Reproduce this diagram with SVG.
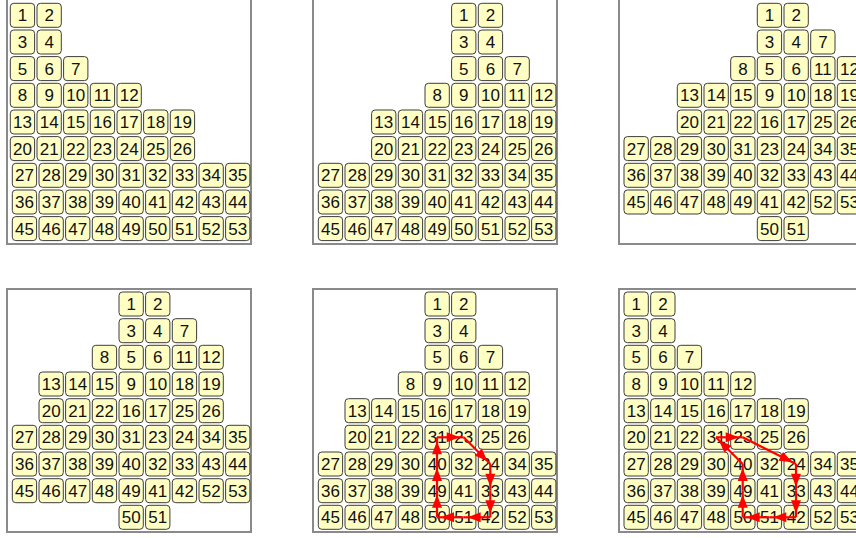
<svg xmlns="http://www.w3.org/2000/svg" xmlns:xlink="http://www.w3.org/1999/xlink" width="856" height="538" viewBox="0 0 856 538">
<style>
.frame{fill:#ffffff;stroke:#8a8a8a;stroke-width:2}
.box{fill:#ffffc4;stroke:#3c3c3c;stroke-width:1}
text{font-family:"Liberation Sans",Arial,sans-serif;font-size:17px;text-anchor:middle;fill:#111}
.arr{stroke:#ff0000;stroke-width:2.2;fill:none;marker-end:url(#ah)}
</style>
<defs>
<rect id="b" class="box" width="24.3" height="24" rx="3.5"/>
<marker id="ah" markerUnits="userSpaceOnUse" viewBox="0 0 14 11" markerWidth="14" markerHeight="11" refX="17" refY="5.5" orient="auto" overflow="visible">
<path d="M0,0.5 L13,5.5 L0,10.5 z" fill="#ff0000"/>
</marker>
</defs>
<rect width="856" height="538" fill="#ffffff"/>
<g id="frames">
<rect class="frame" x="7" y="-1" width="244" height="245"/>
<rect class="frame" x="313" y="-1" width="244" height="245"/>
<rect class="frame" x="619" y="-1" width="244" height="245"/>
<rect class="frame" x="7" y="289" width="244" height="243"/>
<rect class="frame" x="313" y="289" width="244" height="243"/>
<rect class="frame" x="619" y="289" width="244" height="243"/>
</g>
<g id="panel1" transform="translate(12.3,3.3)">
<g transform="translate(-2,0)">
<g id="p1-1" transform="translate(0,0)"><use href="#b"/><text x="12.2" y="18">1</text></g>
<g id="p1-2" transform="translate(26.7,0)"><use href="#b"/><text x="12.2" y="18">2</text></g>
<g id="p1-3" transform="translate(0,26.7)"><use href="#b"/><text x="12.2" y="18">3</text></g>
<g id="p1-4" transform="translate(26.7,26.7)"><use href="#b"/><text x="12.2" y="18">4</text></g>
<g id="p1-5" transform="translate(0,53.3)"><use href="#b"/><text x="12.2" y="18">5</text></g>
<g id="p1-6" transform="translate(26.7,53.3)"><use href="#b"/><text x="12.2" y="18">6</text></g>
<g id="p1-7" transform="translate(53.3,53.3)"><use href="#b"/><text x="12.2" y="18">7</text></g>
<g id="p1-8" transform="translate(0,80)"><use href="#b"/><text x="12.2" y="18">8</text></g>
<g id="p1-9" transform="translate(26.7,80)"><use href="#b"/><text x="12.2" y="18">9</text></g>
<g id="p1-10" transform="translate(53.3,80)"><use href="#b"/><text x="12.2" y="18">10</text></g>
<g id="p1-11" transform="translate(80,80)"><use href="#b"/><text x="12.2" y="18">11</text></g>
<g id="p1-12" transform="translate(106.7,80)"><use href="#b"/><text x="12.2" y="18">12</text></g>
<g id="p1-13" transform="translate(0,106.7)"><use href="#b"/><text x="12.2" y="18">13</text></g>
<g id="p1-14" transform="translate(26.7,106.7)"><use href="#b"/><text x="12.2" y="18">14</text></g>
<g id="p1-15" transform="translate(53.3,106.7)"><use href="#b"/><text x="12.2" y="18">15</text></g>
<g id="p1-16" transform="translate(80,106.7)"><use href="#b"/><text x="12.2" y="18">16</text></g>
<g id="p1-17" transform="translate(106.7,106.7)"><use href="#b"/><text x="12.2" y="18">17</text></g>
<g id="p1-18" transform="translate(133.3,106.7)"><use href="#b"/><text x="12.2" y="18">18</text></g>
<g id="p1-19" transform="translate(160,106.7)"><use href="#b"/><text x="12.2" y="18">19</text></g>
<g id="p1-20" transform="translate(0,133.3)"><use href="#b"/><text x="12.2" y="18">20</text></g>
<g id="p1-21" transform="translate(26.7,133.3)"><use href="#b"/><text x="12.2" y="18">21</text></g>
<g id="p1-22" transform="translate(53.3,133.3)"><use href="#b"/><text x="12.2" y="18">22</text></g>
<g id="p1-23" transform="translate(80,133.3)"><use href="#b"/><text x="12.2" y="18">23</text></g>
<g id="p1-24" transform="translate(106.7,133.3)"><use href="#b"/><text x="12.2" y="18">24</text></g>
<g id="p1-25" transform="translate(133.3,133.3)"><use href="#b"/><text x="12.2" y="18">25</text></g>
<g id="p1-26" transform="translate(160,133.3)"><use href="#b"/><text x="12.2" y="18">26</text></g>
</g>
<g id="p1-27" transform="translate(0,160)"><use href="#b"/><text x="12.2" y="18">27</text></g>
<g id="p1-28" transform="translate(26.7,160)"><use href="#b"/><text x="12.2" y="18">28</text></g>
<g id="p1-29" transform="translate(53.3,160)"><use href="#b"/><text x="12.2" y="18">29</text></g>
<g id="p1-30" transform="translate(80,160)"><use href="#b"/><text x="12.2" y="18">30</text></g>
<g id="p1-31" transform="translate(106.7,160)"><use href="#b"/><text x="12.2" y="18">31</text></g>
<g id="p1-32" transform="translate(133.3,160)"><use href="#b"/><text x="12.2" y="18">32</text></g>
<g id="p1-33" transform="translate(160,160)"><use href="#b"/><text x="12.2" y="18">33</text></g>
<g id="p1-34" transform="translate(186.7,160)"><use href="#b"/><text x="12.2" y="18">34</text></g>
<g id="p1-35" transform="translate(213.3,160)"><use href="#b"/><text x="12.2" y="18">35</text></g>
<g id="p1-36" transform="translate(0,186.7)"><use href="#b"/><text x="12.2" y="18">36</text></g>
<g id="p1-37" transform="translate(26.7,186.7)"><use href="#b"/><text x="12.2" y="18">37</text></g>
<g id="p1-38" transform="translate(53.3,186.7)"><use href="#b"/><text x="12.2" y="18">38</text></g>
<g id="p1-39" transform="translate(80,186.7)"><use href="#b"/><text x="12.2" y="18">39</text></g>
<g id="p1-40" transform="translate(106.7,186.7)"><use href="#b"/><text x="12.2" y="18">40</text></g>
<g id="p1-41" transform="translate(133.3,186.7)"><use href="#b"/><text x="12.2" y="18">41</text></g>
<g id="p1-42" transform="translate(160,186.7)"><use href="#b"/><text x="12.2" y="18">42</text></g>
<g id="p1-43" transform="translate(186.7,186.7)"><use href="#b"/><text x="12.2" y="18">43</text></g>
<g id="p1-44" transform="translate(213.3,186.7)"><use href="#b"/><text x="12.2" y="18">44</text></g>
<g id="p1-45" transform="translate(0,213.3)"><use href="#b"/><text x="12.2" y="18">45</text></g>
<g id="p1-46" transform="translate(26.7,213.3)"><use href="#b"/><text x="12.2" y="18">46</text></g>
<g id="p1-47" transform="translate(53.3,213.3)"><use href="#b"/><text x="12.2" y="18">47</text></g>
<g id="p1-48" transform="translate(80,213.3)"><use href="#b"/><text x="12.2" y="18">48</text></g>
<g id="p1-49" transform="translate(106.7,213.3)"><use href="#b"/><text x="12.2" y="18">49</text></g>
<g id="p1-50" transform="translate(133.3,213.3)"><use href="#b"/><text x="12.2" y="18">50</text></g>
<g id="p1-51" transform="translate(160,213.3)"><use href="#b"/><text x="12.2" y="18">51</text></g>
<g id="p1-52" transform="translate(186.7,213.3)"><use href="#b"/><text x="12.2" y="18">52</text></g>
<g id="p1-53" transform="translate(213.3,213.3)"><use href="#b"/><text x="12.2" y="18">53</text></g>
</g>
<g id="panel2" transform="translate(318.3,3.3)">
<g id="p2-1" transform="translate(133.3,0)"><use href="#b"/><text x="12.2" y="18">1</text></g>
<g id="p2-2" transform="translate(160,0)"><use href="#b"/><text x="12.2" y="18">2</text></g>
<g id="p2-3" transform="translate(133.3,26.7)"><use href="#b"/><text x="12.2" y="18">3</text></g>
<g id="p2-4" transform="translate(160,26.7)"><use href="#b"/><text x="12.2" y="18">4</text></g>
<g id="p2-5" transform="translate(133.3,53.3)"><use href="#b"/><text x="12.2" y="18">5</text></g>
<g id="p2-6" transform="translate(160,53.3)"><use href="#b"/><text x="12.2" y="18">6</text></g>
<g id="p2-7" transform="translate(186.7,53.3)"><use href="#b"/><text x="12.2" y="18">7</text></g>
<g id="p2-8" transform="translate(106.7,80)"><use href="#b"/><text x="12.2" y="18">8</text></g>
<g id="p2-9" transform="translate(133.3,80)"><use href="#b"/><text x="12.2" y="18">9</text></g>
<g id="p2-10" transform="translate(160,80)"><use href="#b"/><text x="12.2" y="18">10</text></g>
<g id="p2-11" transform="translate(186.7,80)"><use href="#b"/><text x="12.2" y="18">11</text></g>
<g id="p2-12" transform="translate(213.3,80)"><use href="#b"/><text x="12.2" y="18">12</text></g>
<g id="p2-13" transform="translate(53.3,106.7)"><use href="#b"/><text x="12.2" y="18">13</text></g>
<g id="p2-14" transform="translate(80,106.7)"><use href="#b"/><text x="12.2" y="18">14</text></g>
<g id="p2-15" transform="translate(106.7,106.7)"><use href="#b"/><text x="12.2" y="18">15</text></g>
<g id="p2-16" transform="translate(133.3,106.7)"><use href="#b"/><text x="12.2" y="18">16</text></g>
<g id="p2-17" transform="translate(160,106.7)"><use href="#b"/><text x="12.2" y="18">17</text></g>
<g id="p2-18" transform="translate(186.7,106.7)"><use href="#b"/><text x="12.2" y="18">18</text></g>
<g id="p2-19" transform="translate(213.3,106.7)"><use href="#b"/><text x="12.2" y="18">19</text></g>
<g id="p2-20" transform="translate(53.3,133.3)"><use href="#b"/><text x="12.2" y="18">20</text></g>
<g id="p2-21" transform="translate(80,133.3)"><use href="#b"/><text x="12.2" y="18">21</text></g>
<g id="p2-22" transform="translate(106.7,133.3)"><use href="#b"/><text x="12.2" y="18">22</text></g>
<g id="p2-23" transform="translate(133.3,133.3)"><use href="#b"/><text x="12.2" y="18">23</text></g>
<g id="p2-24" transform="translate(160,133.3)"><use href="#b"/><text x="12.2" y="18">24</text></g>
<g id="p2-25" transform="translate(186.7,133.3)"><use href="#b"/><text x="12.2" y="18">25</text></g>
<g id="p2-26" transform="translate(213.3,133.3)"><use href="#b"/><text x="12.2" y="18">26</text></g>
<g id="p2-27" transform="translate(0,160)"><use href="#b"/><text x="12.2" y="18">27</text></g>
<g id="p2-28" transform="translate(26.7,160)"><use href="#b"/><text x="12.2" y="18">28</text></g>
<g id="p2-29" transform="translate(53.3,160)"><use href="#b"/><text x="12.2" y="18">29</text></g>
<g id="p2-30" transform="translate(80,160)"><use href="#b"/><text x="12.2" y="18">30</text></g>
<g id="p2-31" transform="translate(106.7,160)"><use href="#b"/><text x="12.2" y="18">31</text></g>
<g id="p2-32" transform="translate(133.3,160)"><use href="#b"/><text x="12.2" y="18">32</text></g>
<g id="p2-33" transform="translate(160,160)"><use href="#b"/><text x="12.2" y="18">33</text></g>
<g id="p2-34" transform="translate(186.7,160)"><use href="#b"/><text x="12.2" y="18">34</text></g>
<g id="p2-35" transform="translate(213.3,160)"><use href="#b"/><text x="12.2" y="18">35</text></g>
<g id="p2-36" transform="translate(0,186.7)"><use href="#b"/><text x="12.2" y="18">36</text></g>
<g id="p2-37" transform="translate(26.7,186.7)"><use href="#b"/><text x="12.2" y="18">37</text></g>
<g id="p2-38" transform="translate(53.3,186.7)"><use href="#b"/><text x="12.2" y="18">38</text></g>
<g id="p2-39" transform="translate(80,186.7)"><use href="#b"/><text x="12.2" y="18">39</text></g>
<g id="p2-40" transform="translate(106.7,186.7)"><use href="#b"/><text x="12.2" y="18">40</text></g>
<g id="p2-41" transform="translate(133.3,186.7)"><use href="#b"/><text x="12.2" y="18">41</text></g>
<g id="p2-42" transform="translate(160,186.7)"><use href="#b"/><text x="12.2" y="18">42</text></g>
<g id="p2-43" transform="translate(186.7,186.7)"><use href="#b"/><text x="12.2" y="18">43</text></g>
<g id="p2-44" transform="translate(213.3,186.7)"><use href="#b"/><text x="12.2" y="18">44</text></g>
<g id="p2-45" transform="translate(0,213.3)"><use href="#b"/><text x="12.2" y="18">45</text></g>
<g id="p2-46" transform="translate(26.7,213.3)"><use href="#b"/><text x="12.2" y="18">46</text></g>
<g id="p2-47" transform="translate(53.3,213.3)"><use href="#b"/><text x="12.2" y="18">47</text></g>
<g id="p2-48" transform="translate(80,213.3)"><use href="#b"/><text x="12.2" y="18">48</text></g>
<g id="p2-49" transform="translate(106.7,213.3)"><use href="#b"/><text x="12.2" y="18">49</text></g>
<g id="p2-50" transform="translate(133.3,213.3)"><use href="#b"/><text x="12.2" y="18">50</text></g>
<g id="p2-51" transform="translate(160,213.3)"><use href="#b"/><text x="12.2" y="18">51</text></g>
<g id="p2-52" transform="translate(186.7,213.3)"><use href="#b"/><text x="12.2" y="18">52</text></g>
<g id="p2-53" transform="translate(213.3,213.3)"><use href="#b"/><text x="12.2" y="18">53</text></g>
</g>
<g id="panel3" transform="translate(624,3.3)">
<g id="p3-1" transform="translate(133.3,0)"><use href="#b"/><text x="12.2" y="18">1</text></g>
<g id="p3-2" transform="translate(160,0)"><use href="#b"/><text x="12.2" y="18">2</text></g>
<g id="p3-3" transform="translate(133.3,26.7)"><use href="#b"/><text x="12.2" y="18">3</text></g>
<g id="p3-4" transform="translate(160,26.7)"><use href="#b"/><text x="12.2" y="18">4</text></g>
<g id="p3-7" transform="translate(186.7,26.7)"><use href="#b"/><text x="12.2" y="18">7</text></g>
<g id="p3-8" transform="translate(106.7,53.3)"><use href="#b"/><text x="12.2" y="18">8</text></g>
<g id="p3-5" transform="translate(133.3,53.3)"><use href="#b"/><text x="12.2" y="18">5</text></g>
<g id="p3-6" transform="translate(160,53.3)"><use href="#b"/><text x="12.2" y="18">6</text></g>
<g id="p3-11" transform="translate(186.7,53.3)"><use href="#b"/><text x="12.2" y="18">11</text></g>
<g id="p3-12" transform="translate(213.3,53.3)"><use href="#b"/><text x="12.2" y="18">12</text></g>
<g id="p3-13" transform="translate(53.3,80)"><use href="#b"/><text x="12.2" y="18">13</text></g>
<g id="p3-14" transform="translate(80,80)"><use href="#b"/><text x="12.2" y="18">14</text></g>
<g id="p3-15" transform="translate(106.7,80)"><use href="#b"/><text x="12.2" y="18">15</text></g>
<g id="p3-9" transform="translate(133.3,80)"><use href="#b"/><text x="12.2" y="18">9</text></g>
<g id="p3-10" transform="translate(160,80)"><use href="#b"/><text x="12.2" y="18">10</text></g>
<g id="p3-18" transform="translate(186.7,80)"><use href="#b"/><text x="12.2" y="18">18</text></g>
<g id="p3-19" transform="translate(213.3,80)"><use href="#b"/><text x="12.2" y="18">19</text></g>
<g id="p3-20" transform="translate(53.3,106.7)"><use href="#b"/><text x="12.2" y="18">20</text></g>
<g id="p3-21" transform="translate(80,106.7)"><use href="#b"/><text x="12.2" y="18">21</text></g>
<g id="p3-22" transform="translate(106.7,106.7)"><use href="#b"/><text x="12.2" y="18">22</text></g>
<g id="p3-16" transform="translate(133.3,106.7)"><use href="#b"/><text x="12.2" y="18">16</text></g>
<g id="p3-17" transform="translate(160,106.7)"><use href="#b"/><text x="12.2" y="18">17</text></g>
<g id="p3-25" transform="translate(186.7,106.7)"><use href="#b"/><text x="12.2" y="18">25</text></g>
<g id="p3-26" transform="translate(213.3,106.7)"><use href="#b"/><text x="12.2" y="18">26</text></g>
<g id="p3-27" transform="translate(0,133.3)"><use href="#b"/><text x="12.2" y="18">27</text></g>
<g id="p3-28" transform="translate(26.7,133.3)"><use href="#b"/><text x="12.2" y="18">28</text></g>
<g id="p3-29" transform="translate(53.3,133.3)"><use href="#b"/><text x="12.2" y="18">29</text></g>
<g id="p3-30" transform="translate(80,133.3)"><use href="#b"/><text x="12.2" y="18">30</text></g>
<g id="p3-31" transform="translate(106.7,133.3)"><use href="#b"/><text x="12.2" y="18">31</text></g>
<g id="p3-23" transform="translate(133.3,133.3)"><use href="#b"/><text x="12.2" y="18">23</text></g>
<g id="p3-24" transform="translate(160,133.3)"><use href="#b"/><text x="12.2" y="18">24</text></g>
<g id="p3-34" transform="translate(186.7,133.3)"><use href="#b"/><text x="12.2" y="18">34</text></g>
<g id="p3-35" transform="translate(213.3,133.3)"><use href="#b"/><text x="12.2" y="18">35</text></g>
<g id="p3-36" transform="translate(0,160)"><use href="#b"/><text x="12.2" y="18">36</text></g>
<g id="p3-37" transform="translate(26.7,160)"><use href="#b"/><text x="12.2" y="18">37</text></g>
<g id="p3-38" transform="translate(53.3,160)"><use href="#b"/><text x="12.2" y="18">38</text></g>
<g id="p3-39" transform="translate(80,160)"><use href="#b"/><text x="12.2" y="18">39</text></g>
<g id="p3-40" transform="translate(106.7,160)"><use href="#b"/><text x="12.2" y="18">40</text></g>
<g id="p3-32" transform="translate(133.3,160)"><use href="#b"/><text x="12.2" y="18">32</text></g>
<g id="p3-33" transform="translate(160,160)"><use href="#b"/><text x="12.2" y="18">33</text></g>
<g id="p3-43" transform="translate(186.7,160)"><use href="#b"/><text x="12.2" y="18">43</text></g>
<g id="p3-44" transform="translate(213.3,160)"><use href="#b"/><text x="12.2" y="18">44</text></g>
<g id="p3-45" transform="translate(0,186.7)"><use href="#b"/><text x="12.2" y="18">45</text></g>
<g id="p3-46" transform="translate(26.7,186.7)"><use href="#b"/><text x="12.2" y="18">46</text></g>
<g id="p3-47" transform="translate(53.3,186.7)"><use href="#b"/><text x="12.2" y="18">47</text></g>
<g id="p3-48" transform="translate(80,186.7)"><use href="#b"/><text x="12.2" y="18">48</text></g>
<g id="p3-49" transform="translate(106.7,186.7)"><use href="#b"/><text x="12.2" y="18">49</text></g>
<g id="p3-41" transform="translate(133.3,186.7)"><use href="#b"/><text x="12.2" y="18">41</text></g>
<g id="p3-42" transform="translate(160,186.7)"><use href="#b"/><text x="12.2" y="18">42</text></g>
<g id="p3-52" transform="translate(186.7,186.7)"><use href="#b"/><text x="12.2" y="18">52</text></g>
<g id="p3-53" transform="translate(213.3,186.7)"><use href="#b"/><text x="12.2" y="18">53</text></g>
<g id="p3-50" transform="translate(133.3,213.3)"><use href="#b"/><text x="12.2" y="18">50</text></g>
<g id="p3-51" transform="translate(160,213.3)"><use href="#b"/><text x="12.2" y="18">51</text></g>
</g>
<g id="panel4" transform="translate(12.3,292)">
<g id="p4-1" transform="translate(106.7,0)"><use href="#b"/><text x="12.2" y="18">1</text></g>
<g id="p4-2" transform="translate(133.3,0)"><use href="#b"/><text x="12.2" y="18">2</text></g>
<g id="p4-3" transform="translate(106.7,26.7)"><use href="#b"/><text x="12.2" y="18">3</text></g>
<g id="p4-4" transform="translate(133.3,26.7)"><use href="#b"/><text x="12.2" y="18">4</text></g>
<g id="p4-7" transform="translate(160,26.7)"><use href="#b"/><text x="12.2" y="18">7</text></g>
<g id="p4-8" transform="translate(80,53.3)"><use href="#b"/><text x="12.2" y="18">8</text></g>
<g id="p4-5" transform="translate(106.7,53.3)"><use href="#b"/><text x="12.2" y="18">5</text></g>
<g id="p4-6" transform="translate(133.3,53.3)"><use href="#b"/><text x="12.2" y="18">6</text></g>
<g id="p4-11" transform="translate(160,53.3)"><use href="#b"/><text x="12.2" y="18">11</text></g>
<g id="p4-12" transform="translate(186.7,53.3)"><use href="#b"/><text x="12.2" y="18">12</text></g>
<g id="p4-13" transform="translate(26.7,80)"><use href="#b"/><text x="12.2" y="18">13</text></g>
<g id="p4-14" transform="translate(53.3,80)"><use href="#b"/><text x="12.2" y="18">14</text></g>
<g id="p4-15" transform="translate(80,80)"><use href="#b"/><text x="12.2" y="18">15</text></g>
<g id="p4-9" transform="translate(106.7,80)"><use href="#b"/><text x="12.2" y="18">9</text></g>
<g id="p4-10" transform="translate(133.3,80)"><use href="#b"/><text x="12.2" y="18">10</text></g>
<g id="p4-18" transform="translate(160,80)"><use href="#b"/><text x="12.2" y="18">18</text></g>
<g id="p4-19" transform="translate(186.7,80)"><use href="#b"/><text x="12.2" y="18">19</text></g>
<g id="p4-20" transform="translate(26.7,106.7)"><use href="#b"/><text x="12.2" y="18">20</text></g>
<g id="p4-21" transform="translate(53.3,106.7)"><use href="#b"/><text x="12.2" y="18">21</text></g>
<g id="p4-22" transform="translate(80,106.7)"><use href="#b"/><text x="12.2" y="18">22</text></g>
<g id="p4-16" transform="translate(106.7,106.7)"><use href="#b"/><text x="12.2" y="18">16</text></g>
<g id="p4-17" transform="translate(133.3,106.7)"><use href="#b"/><text x="12.2" y="18">17</text></g>
<g id="p4-25" transform="translate(160,106.7)"><use href="#b"/><text x="12.2" y="18">25</text></g>
<g id="p4-26" transform="translate(186.7,106.7)"><use href="#b"/><text x="12.2" y="18">26</text></g>
<g id="p4-27" transform="translate(0,133.3)"><use href="#b"/><text x="12.2" y="18">27</text></g>
<g id="p4-28" transform="translate(26.7,133.3)"><use href="#b"/><text x="12.2" y="18">28</text></g>
<g id="p4-29" transform="translate(53.3,133.3)"><use href="#b"/><text x="12.2" y="18">29</text></g>
<g id="p4-30" transform="translate(80,133.3)"><use href="#b"/><text x="12.2" y="18">30</text></g>
<g id="p4-31" transform="translate(106.7,133.3)"><use href="#b"/><text x="12.2" y="18">31</text></g>
<g id="p4-23" transform="translate(133.3,133.3)"><use href="#b"/><text x="12.2" y="18">23</text></g>
<g id="p4-24" transform="translate(160,133.3)"><use href="#b"/><text x="12.2" y="18">24</text></g>
<g id="p4-34" transform="translate(186.7,133.3)"><use href="#b"/><text x="12.2" y="18">34</text></g>
<g id="p4-35" transform="translate(213.3,133.3)"><use href="#b"/><text x="12.2" y="18">35</text></g>
<g id="p4-36" transform="translate(0,160)"><use href="#b"/><text x="12.2" y="18">36</text></g>
<g id="p4-37" transform="translate(26.7,160)"><use href="#b"/><text x="12.2" y="18">37</text></g>
<g id="p4-38" transform="translate(53.3,160)"><use href="#b"/><text x="12.2" y="18">38</text></g>
<g id="p4-39" transform="translate(80,160)"><use href="#b"/><text x="12.2" y="18">39</text></g>
<g id="p4-40" transform="translate(106.7,160)"><use href="#b"/><text x="12.2" y="18">40</text></g>
<g id="p4-32" transform="translate(133.3,160)"><use href="#b"/><text x="12.2" y="18">32</text></g>
<g id="p4-33" transform="translate(160,160)"><use href="#b"/><text x="12.2" y="18">33</text></g>
<g id="p4-43" transform="translate(186.7,160)"><use href="#b"/><text x="12.2" y="18">43</text></g>
<g id="p4-44" transform="translate(213.3,160)"><use href="#b"/><text x="12.2" y="18">44</text></g>
<g id="p4-45" transform="translate(0,186.7)"><use href="#b"/><text x="12.2" y="18">45</text></g>
<g id="p4-46" transform="translate(26.7,186.7)"><use href="#b"/><text x="12.2" y="18">46</text></g>
<g id="p4-47" transform="translate(53.3,186.7)"><use href="#b"/><text x="12.2" y="18">47</text></g>
<g id="p4-48" transform="translate(80,186.7)"><use href="#b"/><text x="12.2" y="18">48</text></g>
<g id="p4-49" transform="translate(106.7,186.7)"><use href="#b"/><text x="12.2" y="18">49</text></g>
<g id="p4-41" transform="translate(133.3,186.7)"><use href="#b"/><text x="12.2" y="18">41</text></g>
<g id="p4-42" transform="translate(160,186.7)"><use href="#b"/><text x="12.2" y="18">42</text></g>
<g id="p4-52" transform="translate(186.7,186.7)"><use href="#b"/><text x="12.2" y="18">52</text></g>
<g id="p4-53" transform="translate(213.3,186.7)"><use href="#b"/><text x="12.2" y="18">53</text></g>
<g id="p4-50" transform="translate(106.7,213.3)"><use href="#b"/><text x="12.2" y="18">50</text></g>
<g id="p4-51" transform="translate(133.3,213.3)"><use href="#b"/><text x="12.2" y="18">51</text></g>
</g>
<g id="panel5" transform="translate(318.3,292)">
<g id="p5-1" transform="translate(106.7,0)"><use href="#b"/><text x="12.2" y="18">1</text></g>
<g id="p5-2" transform="translate(133.3,0)"><use href="#b"/><text x="12.2" y="18">2</text></g>
<g id="p5-3" transform="translate(106.7,26.7)"><use href="#b"/><text x="12.2" y="18">3</text></g>
<g id="p5-4" transform="translate(133.3,26.7)"><use href="#b"/><text x="12.2" y="18">4</text></g>
<g id="p5-5" transform="translate(106.7,53.3)"><use href="#b"/><text x="12.2" y="18">5</text></g>
<g id="p5-6" transform="translate(133.3,53.3)"><use href="#b"/><text x="12.2" y="18">6</text></g>
<g id="p5-7" transform="translate(160,53.3)"><use href="#b"/><text x="12.2" y="18">7</text></g>
<g id="p5-8" transform="translate(80,80)"><use href="#b"/><text x="12.2" y="18">8</text></g>
<g id="p5-9" transform="translate(106.7,80)"><use href="#b"/><text x="12.2" y="18">9</text></g>
<g id="p5-10" transform="translate(133.3,80)"><use href="#b"/><text x="12.2" y="18">10</text></g>
<g id="p5-11" transform="translate(160,80)"><use href="#b"/><text x="12.2" y="18">11</text></g>
<g id="p5-12" transform="translate(186.7,80)"><use href="#b"/><text x="12.2" y="18">12</text></g>
<g id="p5-13" transform="translate(26.7,106.7)"><use href="#b"/><text x="12.2" y="18">13</text></g>
<g id="p5-14" transform="translate(53.3,106.7)"><use href="#b"/><text x="12.2" y="18">14</text></g>
<g id="p5-15" transform="translate(80,106.7)"><use href="#b"/><text x="12.2" y="18">15</text></g>
<g id="p5-16" transform="translate(106.7,106.7)"><use href="#b"/><text x="12.2" y="18">16</text></g>
<g id="p5-17" transform="translate(133.3,106.7)"><use href="#b"/><text x="12.2" y="18">17</text></g>
<g id="p5-18" transform="translate(160,106.7)"><use href="#b"/><text x="12.2" y="18">18</text></g>
<g id="p5-19" transform="translate(186.7,106.7)"><use href="#b"/><text x="12.2" y="18">19</text></g>
<g id="p5-20" transform="translate(26.7,133.3)"><use href="#b"/><text x="12.2" y="18">20</text></g>
<g id="p5-21" transform="translate(53.3,133.3)"><use href="#b"/><text x="12.2" y="18">21</text></g>
<g id="p5-22" transform="translate(80,133.3)"><use href="#b"/><text x="12.2" y="18">22</text></g>
<g id="p5-31" transform="translate(106.7,133.3)"><use href="#b"/><text x="12.2" y="18">31</text></g>
<g id="p5-23" transform="translate(133.3,133.3)"><use href="#b"/><text x="12.2" y="18">23</text></g>
<g id="p5-25" transform="translate(160,133.3)"><use href="#b"/><text x="12.2" y="18">25</text></g>
<g id="p5-26" transform="translate(186.7,133.3)"><use href="#b"/><text x="12.2" y="18">26</text></g>
<g id="p5-27" transform="translate(0,160)"><use href="#b"/><text x="12.2" y="18">27</text></g>
<g id="p5-28" transform="translate(26.7,160)"><use href="#b"/><text x="12.2" y="18">28</text></g>
<g id="p5-29" transform="translate(53.3,160)"><use href="#b"/><text x="12.2" y="18">29</text></g>
<g id="p5-30" transform="translate(80,160)"><use href="#b"/><text x="12.2" y="18">30</text></g>
<g id="p5-40" transform="translate(106.7,160)"><use href="#b"/><text x="12.2" y="18">40</text></g>
<g id="p5-32" transform="translate(133.3,160)"><use href="#b"/><text x="12.2" y="18">32</text></g>
<g id="p5-24" transform="translate(160,160)"><use href="#b"/><text x="12.2" y="18">24</text></g>
<g id="p5-34" transform="translate(186.7,160)"><use href="#b"/><text x="12.2" y="18">34</text></g>
<g id="p5-35" transform="translate(213.3,160)"><use href="#b"/><text x="12.2" y="18">35</text></g>
<g id="p5-36" transform="translate(0,186.7)"><use href="#b"/><text x="12.2" y="18">36</text></g>
<g id="p5-37" transform="translate(26.7,186.7)"><use href="#b"/><text x="12.2" y="18">37</text></g>
<g id="p5-38" transform="translate(53.3,186.7)"><use href="#b"/><text x="12.2" y="18">38</text></g>
<g id="p5-39" transform="translate(80,186.7)"><use href="#b"/><text x="12.2" y="18">39</text></g>
<g id="p5-49" transform="translate(106.7,186.7)"><use href="#b"/><text x="12.2" y="18">49</text></g>
<g id="p5-41" transform="translate(133.3,186.7)"><use href="#b"/><text x="12.2" y="18">41</text></g>
<g id="p5-33" transform="translate(160,186.7)"><use href="#b"/><text x="12.2" y="18">33</text></g>
<g id="p5-43" transform="translate(186.7,186.7)"><use href="#b"/><text x="12.2" y="18">43</text></g>
<g id="p5-44" transform="translate(213.3,186.7)"><use href="#b"/><text x="12.2" y="18">44</text></g>
<g id="p5-45" transform="translate(0,213.3)"><use href="#b"/><text x="12.2" y="18">45</text></g>
<g id="p5-46" transform="translate(26.7,213.3)"><use href="#b"/><text x="12.2" y="18">46</text></g>
<g id="p5-47" transform="translate(53.3,213.3)"><use href="#b"/><text x="12.2" y="18">47</text></g>
<g id="p5-48" transform="translate(80,213.3)"><use href="#b"/><text x="12.2" y="18">48</text></g>
<g id="p5-50" transform="translate(106.7,213.3)"><use href="#b"/><text x="12.2" y="18">50</text></g>
<g id="p5-51" transform="translate(133.3,213.3)"><use href="#b"/><text x="12.2" y="18">51</text></g>
<g id="p5-42" transform="translate(160,213.3)"><use href="#b"/><text x="12.2" y="18">42</text></g>
<g id="p5-52" transform="translate(186.7,213.3)"><use href="#b"/><text x="12.2" y="18">52</text></g>
<g id="p5-53" transform="translate(213.3,213.3)"><use href="#b"/><text x="12.2" y="18">53</text></g>
</g>
<g id="panel6" transform="translate(624,292)">
<g id="p6-1" transform="translate(0,0)"><use href="#b"/><text x="12.2" y="18">1</text></g>
<g id="p6-2" transform="translate(26.7,0)"><use href="#b"/><text x="12.2" y="18">2</text></g>
<g id="p6-3" transform="translate(0,26.7)"><use href="#b"/><text x="12.2" y="18">3</text></g>
<g id="p6-4" transform="translate(26.7,26.7)"><use href="#b"/><text x="12.2" y="18">4</text></g>
<g id="p6-5" transform="translate(0,53.3)"><use href="#b"/><text x="12.2" y="18">5</text></g>
<g id="p6-6" transform="translate(26.7,53.3)"><use href="#b"/><text x="12.2" y="18">6</text></g>
<g id="p6-7" transform="translate(53.3,53.3)"><use href="#b"/><text x="12.2" y="18">7</text></g>
<g id="p6-8" transform="translate(0,80)"><use href="#b"/><text x="12.2" y="18">8</text></g>
<g id="p6-9" transform="translate(26.7,80)"><use href="#b"/><text x="12.2" y="18">9</text></g>
<g id="p6-10" transform="translate(53.3,80)"><use href="#b"/><text x="12.2" y="18">10</text></g>
<g id="p6-11" transform="translate(80,80)"><use href="#b"/><text x="12.2" y="18">11</text></g>
<g id="p6-12" transform="translate(106.7,80)"><use href="#b"/><text x="12.2" y="18">12</text></g>
<g id="p6-13" transform="translate(0,106.7)"><use href="#b"/><text x="12.2" y="18">13</text></g>
<g id="p6-14" transform="translate(26.7,106.7)"><use href="#b"/><text x="12.2" y="18">14</text></g>
<g id="p6-15" transform="translate(53.3,106.7)"><use href="#b"/><text x="12.2" y="18">15</text></g>
<g id="p6-16" transform="translate(80,106.7)"><use href="#b"/><text x="12.2" y="18">16</text></g>
<g id="p6-17" transform="translate(106.7,106.7)"><use href="#b"/><text x="12.2" y="18">17</text></g>
<g id="p6-18" transform="translate(133.3,106.7)"><use href="#b"/><text x="12.2" y="18">18</text></g>
<g id="p6-19" transform="translate(160,106.7)"><use href="#b"/><text x="12.2" y="18">19</text></g>
<g id="p6-20" transform="translate(0,133.3)"><use href="#b"/><text x="12.2" y="18">20</text></g>
<g id="p6-21" transform="translate(26.7,133.3)"><use href="#b"/><text x="12.2" y="18">21</text></g>
<g id="p6-22" transform="translate(53.3,133.3)"><use href="#b"/><text x="12.2" y="18">22</text></g>
<g id="p6-31" transform="translate(80,133.3)"><use href="#b"/><text x="12.2" y="18">31</text></g>
<g id="p6-23" transform="translate(106.7,133.3)"><use href="#b"/><text x="12.2" y="18">23</text></g>
<g id="p6-25" transform="translate(133.3,133.3)"><use href="#b"/><text x="12.2" y="18">25</text></g>
<g id="p6-26" transform="translate(160,133.3)"><use href="#b"/><text x="12.2" y="18">26</text></g>
<g id="p6-27" transform="translate(0,160)"><use href="#b"/><text x="12.2" y="18">27</text></g>
<g id="p6-28" transform="translate(26.7,160)"><use href="#b"/><text x="12.2" y="18">28</text></g>
<g id="p6-29" transform="translate(53.3,160)"><use href="#b"/><text x="12.2" y="18">29</text></g>
<g id="p6-30" transform="translate(80,160)"><use href="#b"/><text x="12.2" y="18">30</text></g>
<g id="p6-40" transform="translate(106.7,160)"><use href="#b"/><text x="12.2" y="18">40</text></g>
<g id="p6-32" transform="translate(133.3,160)"><use href="#b"/><text x="12.2" y="18">32</text></g>
<g id="p6-24" transform="translate(160,160)"><use href="#b"/><text x="12.2" y="18">24</text></g>
<g id="p6-34" transform="translate(186.7,160)"><use href="#b"/><text x="12.2" y="18">34</text></g>
<g id="p6-35" transform="translate(213.3,160)"><use href="#b"/><text x="12.2" y="18">35</text></g>
<g id="p6-36" transform="translate(0,186.7)"><use href="#b"/><text x="12.2" y="18">36</text></g>
<g id="p6-37" transform="translate(26.7,186.7)"><use href="#b"/><text x="12.2" y="18">37</text></g>
<g id="p6-38" transform="translate(53.3,186.7)"><use href="#b"/><text x="12.2" y="18">38</text></g>
<g id="p6-39" transform="translate(80,186.7)"><use href="#b"/><text x="12.2" y="18">39</text></g>
<g id="p6-49" transform="translate(106.7,186.7)"><use href="#b"/><text x="12.2" y="18">49</text></g>
<g id="p6-41" transform="translate(133.3,186.7)"><use href="#b"/><text x="12.2" y="18">41</text></g>
<g id="p6-33" transform="translate(160,186.7)"><use href="#b"/><text x="12.2" y="18">33</text></g>
<g id="p6-43" transform="translate(186.7,186.7)"><use href="#b"/><text x="12.2" y="18">43</text></g>
<g id="p6-44" transform="translate(213.3,186.7)"><use href="#b"/><text x="12.2" y="18">44</text></g>
<g id="p6-45" transform="translate(0,213.3)"><use href="#b"/><text x="12.2" y="18">45</text></g>
<g id="p6-46" transform="translate(26.7,213.3)"><use href="#b"/><text x="12.2" y="18">46</text></g>
<g id="p6-47" transform="translate(53.3,213.3)"><use href="#b"/><text x="12.2" y="18">47</text></g>
<g id="p6-48" transform="translate(80,213.3)"><use href="#b"/><text x="12.2" y="18">48</text></g>
<g id="p6-50" transform="translate(106.7,213.3)"><use href="#b"/><text x="12.2" y="18">50</text></g>
<g id="p6-51" transform="translate(133.3,213.3)"><use href="#b"/><text x="12.2" y="18">51</text></g>
<g id="p6-42" transform="translate(160,213.3)"><use href="#b"/><text x="12.2" y="18">42</text></g>
<g id="p6-52" transform="translate(186.7,213.3)"><use href="#b"/><text x="12.2" y="18">52</text></g>
<g id="p6-53" transform="translate(213.3,213.3)"><use href="#b"/><text x="12.2" y="18">53</text></g>
</g>
<g id="connectors">
<line class="arr" x1="437" y1="437.3" x2="463.7" y2="437.3"/>
<line class="arr" x1="463.7" y1="437.3" x2="490.3" y2="464"/>
<line class="arr" x1="490.3" y1="464" x2="490.3" y2="490.7"/>
<line class="arr" x1="490.3" y1="490.7" x2="490.3" y2="517.3"/>
<line class="arr" x1="490.3" y1="517.3" x2="463.7" y2="517.3"/>
<line class="arr" x1="463.7" y1="517.3" x2="437" y2="517.3"/>
<line class="arr" x1="437" y1="517.3" x2="437" y2="490.7"/>
<line class="arr" x1="437" y1="490.7" x2="437" y2="464"/>
<line class="arr" x1="437" y1="464" x2="437" y2="437.3"/>
<line class="arr" x1="716" y1="437.3" x2="742.7" y2="437.3"/>
<line class="arr" x1="742.7" y1="437.3" x2="796" y2="464"/>
<line class="arr" x1="796" y1="464" x2="796" y2="490.7"/>
<line class="arr" x1="796" y1="490.7" x2="796" y2="517.3"/>
<line class="arr" x1="796" y1="517.3" x2="769.3" y2="517.3"/>
<line class="arr" x1="769.3" y1="517.3" x2="742.7" y2="517.3"/>
<line class="arr" x1="742.7" y1="517.3" x2="742.7" y2="490.7"/>
<line class="arr" x1="742.7" y1="490.7" x2="742.7" y2="464"/>
<line class="arr" x1="742.7" y1="464" x2="716" y2="437.3"/>
</g>
</svg>
